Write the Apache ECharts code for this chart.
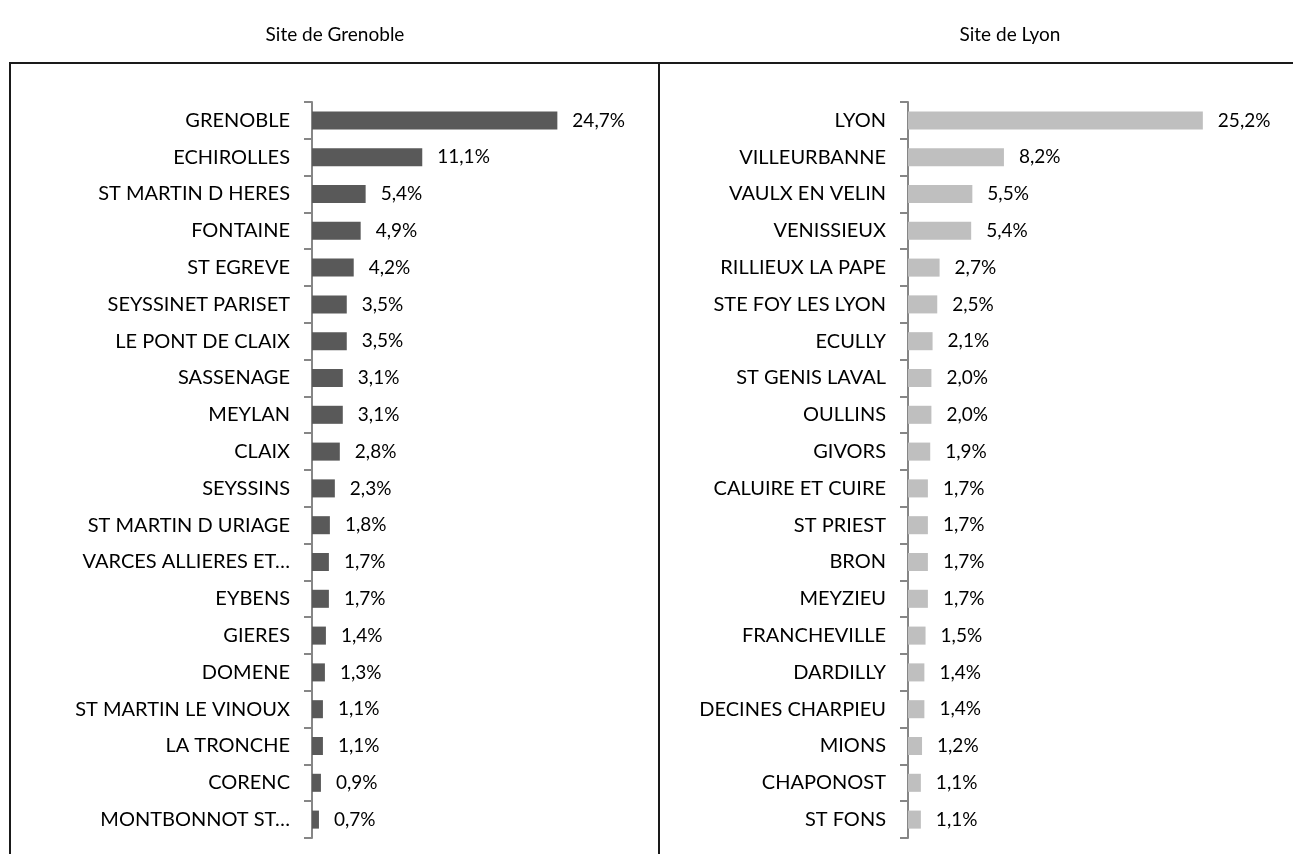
<!DOCTYPE html>
<html>
<head>
<meta charset="utf-8">
<script src="https://cdn.jsdelivr.net/npm/echarts@6/dist/echarts.min.js"></script>
<style>
html, body { margin: 0; padding: 0; background: #fff; }
#main { width: 1294px; height: 854px; }
</style>
</head>
<body>
<div id="main"></div>
<script>
// Site de Grenoble
var grenobleCities = ['GRENOBLE', 'ECHIROLLES', 'ST MARTIN D HERES', 'FONTAINE', 'ST EGREVE',
    'SEYSSINET PARISET', 'LE PONT DE CLAIX', 'SASSENAGE', 'MEYLAN', 'CLAIX', 'SEYSSINS',
    'ST MARTIN D URIAGE', 'VARCES ALLIERES ET…', 'EYBENS', 'GIERES', 'DOMENE',
    'ST MARTIN LE VINOUX', 'LA TRONCHE', 'CORENC', 'MONTBONNOT ST…'];
var grenobleValues = [24.7, 11.1, 5.4, 4.9, 4.2, 3.5, 3.5, 3.1, 3.1, 2.8, 2.3,
    1.8, 1.7, 1.7, 1.4, 1.3, 1.1, 1.1, 0.9, 0.7];

// Site de Lyon
var lyonCities = ['LYON', 'VILLEURBANNE', 'VAULX EN VELIN', 'VENISSIEUX', 'RILLIEUX LA PAPE',
    'STE FOY LES LYON', 'ECULLY', 'ST GENIS LAVAL', 'OULLINS', 'GIVORS', 'CALUIRE ET CUIRE',
    'ST PRIEST', 'BRON', 'MEYZIEU', 'FRANCHEVILLE', 'DARDILLY', 'DECINES CHARPIEU',
    'MIONS', 'CHAPONOST', 'ST FONS'];
var lyonValues = [25.2, 8.2, 5.5, 5.4, 2.7, 2.5, 2.1, 2.0, 2.0, 1.9, 1.7,
    1.7, 1.7, 1.7, 1.5, 1.4, 1.4, 1.2, 1.1, 1.1];

var titles = ['Site de Grenoble', 'Site de Lyon'];

var FONT = 'Lato';
var TXT = '#000';

function pct(p) {
    return p.value.toFixed(1).replace('.', ',') + '%';
}

function catAxis(idx, data) {
    return {
        type: 'category',
        gridIndex: idx,
        inverse: true,
        data: data,
        axisLine: { lineStyle: { color: '#868686', width: 2 } },
        axisTick: { show: true, length: 8, lineStyle: { color: '#868686', width: 2 } },
        axisLabel: { color: TXT, fontFamily: FONT, fontSize: 20, margin: 22 }
    };
}

function valAxis(idx) {
    return {
        type: 'value',
        gridIndex: idx,
        min: 0,
        max: 30,
        show: false,
        splitLine: { show: false }
    };
}

function barSeries(idx, data, color) {
    return {
        type: 'bar',
        xAxisIndex: idx,
        yAxisIndex: idx,
        data: data,
        barCategoryGap: '51%',
        itemStyle: { color: color },
        label: {
            show: true,
            position: 'right',
            distance: 15,
            color: TXT,
            fontFamily: FONT,
            fontSize: 19,
            formatter: pct
        },
        silent: true
    };
}

var chart = echarts.init(document.getElementById('main'));
chart.setOption({
    animation: false,
    title: [{
        text: titles[0],
        left: 330,
        top: 20,
        textAlign: 'center',
        textStyle: { fontFamily: FONT, fontSize: 19, fontWeight: 'normal', color: TXT }
    }, {
        text: titles[1],
        left: 1005,
        top: 20,
        textAlign: 'center',
        textStyle: { fontFamily: FONT, fontSize: 19, fontWeight: 'normal', color: TXT }
    }],
    grid: [
        { left: 312, top: 102, width: 298, height: 736 },
        { left: 908, top: 102, width: 351, height: 736 }
    ],
    xAxis: [valAxis(0), valAxis(1)],
    yAxis: [catAxis(0, grenobleCities), catAxis(1, lyonCities)],
    series: [
        barSeries(0, grenobleValues, '#595959'),
        barSeries(1, lyonValues, '#bfbfbf')
    ],
    graphic: [
        { type: 'line', shape: { x1: 9, y1: 63, x2: 1293, y2: 63 }, style: { stroke: '#1a1a1a', lineWidth: 2 } },
        { type: 'line', shape: { x1: 10, y1: 63, x2: 10, y2: 854 }, style: { stroke: '#1a1a1a', lineWidth: 2 } },
        { type: 'line', shape: { x1: 659, y1: 63, x2: 659, y2: 854 }, style: { stroke: '#1a1a1a', lineWidth: 2 } }
    ]
});
</script>
</body>
</html>
